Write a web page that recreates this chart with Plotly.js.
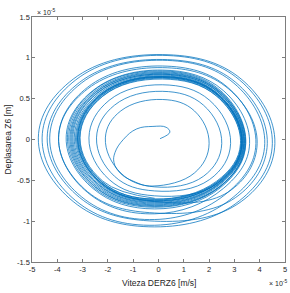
<!DOCTYPE html>
<html>
<head>
<meta charset="utf-8">
<script src="https://cdn.plot.ly/plotly-3.0.1.min.js"></script>
<style>
  html, body { margin: 0; padding: 0; background: #fff; }
  #plot { width: 290px; height: 293px; }
</style>
</head>
<body>
<div id="plot"></div>
<script>
// Phase trajectory of node Z6: velocity DERZ6 (x) vs displacement Z6 (y), both in units of 1e-5.

// Opening hook near the origin
const hookX = [0.06, 0.45, 0.30, -0.22, -0.86, -1.39, -1.72, -1.76, -1.52, -1.00, -0.22];
const hookY = [0.01, 0.09, 0.15, 0.16, 0.13, 0.00, -0.16, -0.28, -0.41, -0.51, -0.57];

// Successive turns, counter-clockwise: SE, right, NE, top, NW, left, SW, bottom
const turnX = [
  [1.42, 2.00, 1.42, 0.15, -1.49, -2.10, -1.49, -0.15],
  [1.78, 2.50, 1.78, 0.15, -1.74, -2.45, -1.74, -0.15],
  [2.02, 2.85, 2.02, 0.15, -1.95, -2.75, -1.95, -0.15],
  [2.34, 3.30, 2.34, 0.15, -2.27, -3.20, -2.27, -0.15],
  [2.77, 3.90, 2.77, 0.15, -2.80, -3.95, -2.80, -0.15],
  [3.05, 4.30, 3.05, 0.15, -3.12, -4.40, -3.12, -0.15],
  [3.27, 4.60, 3.27, 0.15, -3.37, -4.75, -3.37, -0.15],
  [3.20, 4.50, 3.20, 0.15, -3.27, -4.60, -3.27, -0.15],
  [2.98, 4.20, 2.98, 0.15, -3.05, -4.30, -3.05, -0.15],
  [2.73, 3.85, 2.73, 0.15, -2.80, -3.95, -2.80, -0.15],
  [2.56, 3.60, 2.56, 0.15, -2.59, -3.65, -2.59, -0.15],
  [2.45, 3.45, 2.45, 0.15, -2.56, -3.60, -2.56, -0.15],
  [2.43, 3.42, 2.43, 0.15, -2.52, -3.55, -2.52, -0.15],
  [2.41, 3.40, 2.41, 0.15, -2.49, -3.50, -2.49, -0.15],
  [2.44, 3.44, 2.44, 0.15, -2.46, -3.46, -2.46, -0.15],
  [2.40, 3.38, 2.40, 0.15, -2.43, -3.42, -2.43, -0.15],
  [2.39, 3.37, 2.39, 0.15, -2.40, -3.38, -2.40, -0.15],
  [2.36, 3.33, 2.36, 0.15, -2.36, -3.33, -2.36, -0.15],
  [2.38, 3.35, 2.38, 0.15, -2.33, -3.28, -2.33, -0.15],
  [2.35, 3.31, 2.35, 0.15, -2.30, -3.24, -2.30, -0.15],
  [2.34, 3.30, 2.34, 0.15, -2.27, -3.20, -2.27, -0.15],
  [2.34, 3.29, 2.34, 0.15, -2.26, -3.18, -2.26, -0.15],
  [2.33, 3.28, 2.33, 0.15, -2.24, -3.15, -2.24, -0.15],
  [2.31, 3.26, 2.31, 0.15, -2.22, -3.12, -2.22, -0.15],
  [2.30, 3.24, 2.30, 0.15, -2.20, -3.10, -2.20, -0.15]
];
const turnY = [
  [-0.41, -0.05, 0.35, 0.49, 0.35, 0.02, -0.41, -0.58],
  [-0.45, -0.05, 0.42, 0.59, 0.42, 0.02, -0.45, -0.63],
  [-0.49, -0.05, 0.48, 0.67, 0.48, 0.02, -0.49, -0.69],
  [-0.54, -0.05, 0.55, 0.77, 0.55, 0.02, -0.54, -0.76],
  [-0.64, -0.05, 0.62, 0.88, 0.62, 0.02, -0.64, -0.90],
  [-0.71, -0.05, 0.70, 0.98, 0.70, 0.02, -0.71, -1.00],
  [-0.76, -0.05, 0.74, 1.04, 0.74, 0.02, -0.76, -1.07],
  [-0.75, -0.05, 0.73, 1.03, 0.73, 0.02, -0.75, -1.05],
  [-0.70, -0.05, 0.69, 0.97, 0.69, 0.02, -0.70, -0.98],
  [-0.65, -0.05, 0.64, 0.90, 0.64, 0.02, -0.65, -0.91],
  [-0.60, -0.05, 0.60, 0.85, 0.60, 0.02, -0.60, -0.85],
  [-0.59, -0.05, 0.60, 0.84, 0.60, 0.02, -0.59, -0.83],
  [-0.58, -0.05, 0.59, 0.83, 0.59, 0.02, -0.58, -0.82],
  [-0.58, -0.05, 0.58, 0.82, 0.58, 0.02, -0.58, -0.81],
  [-0.57, -0.05, 0.58, 0.81, 0.58, 0.02, -0.57, -0.80],
  [-0.56, -0.05, 0.57, 0.80, 0.57, 0.02, -0.56, -0.79],
  [-0.55, -0.05, 0.57, 0.80, 0.57, 0.02, -0.55, -0.78],
  [-0.55, -0.05, 0.56, 0.79, 0.56, 0.02, -0.55, -0.77],
  [-0.54, -0.05, 0.55, 0.78, 0.55, 0.02, -0.54, -0.76],
  [-0.53, -0.05, 0.55, 0.77, 0.55, 0.02, -0.53, -0.75],
  [-0.53, -0.05, 0.55, 0.77, 0.55, 0.02, -0.53, -0.75],
  [-0.53, -0.05, 0.54, 0.76, 0.54, 0.02, -0.53, -0.74],
  [-0.52, -0.05, 0.54, 0.76, 0.54, 0.02, -0.52, -0.73],
  [-0.52, -0.05, 0.53, 0.75, 0.53, 0.02, -0.52, -0.73],
  [-0.51, -0.05, 0.53, 0.74, 0.53, 0.02, -0.51, -0.72]
];

// Tick positions and labels (ASCII hyphen for negatives)
const xTicks = [-5, -4, -3, -2, -1, 0, 1, 2, 3, 4, 5];
const xTickText = ['-5', '-4', '-3', '-2', '-1', '0', '1', '2', '3', '4', '5'];
const yTicks = [-1.5, -1, -0.5, 0, 0.5, 1, 1.5];
const yTickText = ['-1.5', '-1', '-0.5', '0', '0.5', '1', '1.5'];

const xs = hookX.concat(...turnX);
const ys = hookY.concat(...turnY);

const FONT = 'Liberation Sans, Arial, Helvetica, sans-serif';
const AX = '#262626';

const trace = {
  x: xs, y: ys,
  type: 'scatter', mode: 'lines',
  line: { color: '#0072BD', width: 0.75, shape: 'spline', smoothing: 1.15 },
  hoverinfo: 'skip'
};

const axisCommon = {
  showgrid: false, zeroline: false,
  showline: true, linecolor: AX, linewidth: 0.6,
  mirror: 'ticks', ticks: 'inside', ticklen: 3, tickwidth: 0.6, tickcolor: AX,
  tickfont: { family: FONT, size: 7.5, color: AX },
  tickmode: 'array', fixedrange: true
};

const layout = {
  width: 290, height: 293,
  margin: { l: 32, r: 5, t: 17, b: 31, pad: 0 },
  paper_bgcolor: '#ffffff', plot_bgcolor: '#ffffff',
  showlegend: false,
  xaxis: Object.assign({}, axisCommon, { range: [-5, 5], tickvals: xTicks, ticktext: xTickText }),
  yaxis: Object.assign({}, axisCommon, { range: [-1.5, 1.5], tickvals: yTicks, ticktext: yTickText }),
  annotations: [
    { text: 'Viteza DERZ6 [m/s]', xref: 'paper', yref: 'paper', x: 0.5, y: -0.086,
      xanchor: 'center', yanchor: 'middle', showarrow: false,
      font: { family: FONT, size: 8.5, color: AX } },
    { text: 'Deplasarea Z6 [m]', xref: 'paper', yref: 'paper', x: -0.095, y: 0.5,
      xanchor: 'center', yanchor: 'middle', textangle: -90, showarrow: false,
      font: { family: FONT, size: 8.5, color: AX } },
    { text: '\u00d7 10<sup>-5</sup>', xref: 'paper', yref: 'paper', x: 0.012, y: 1.0,
      xanchor: 'left', yanchor: 'bottom', yshift: -1, showarrow: false,
      font: { family: FONT, size: 7, color: AX } },
    { text: '\u00d7 10<sup>-5</sup>', xref: 'paper', yref: 'paper', x: 0.93, y: -0.086,
      xanchor: 'left', yanchor: 'middle', showarrow: false,
      font: { family: FONT, size: 7, color: AX } }
  ]
};

Plotly.newPlot('plot', [trace], layout, { displayModeBar: false, staticPlot: true });
</script>
</body>
</html>
